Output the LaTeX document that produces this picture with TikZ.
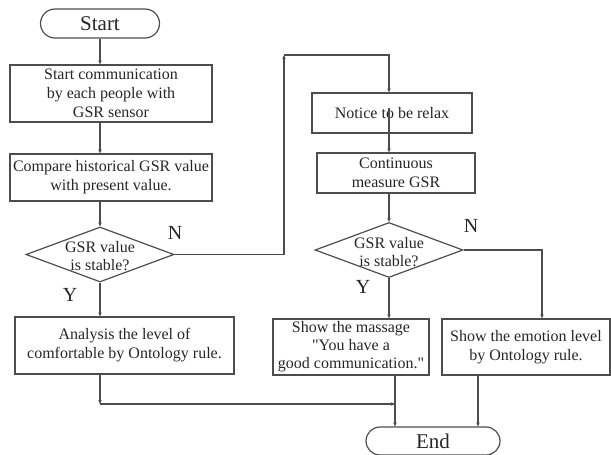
\documentclass[tikz,border=0pt]{standalone}
\usepackage{fontspec}
\setmainfont{Liberation Serif}[Ligatures=TeXOff]
\usetikzlibrary{shapes.geometric,shapes.misc,arrows.meta}
\definecolor{ln}{HTML}{4D4D4D}
\definecolor{tx}{HTML}{262626}
\begin{document}
\begin{tikzpicture}[x=1pt,y=-1pt,
  every node/.style={text=tx, inner sep=0pt},
  box/.style={draw=ln, line width=1.3pt, rectangle, align=center,
    font=\fontsize{16}{19}\selectfont},
  term/.style={draw=ln, line width=1.2pt, rounded rectangle,
    font=\fontsize{21}{24}\selectfont},
  decide/.style={draw=ln, line width=1.2pt, diamond, minimum width=148,
    minimum height=55,
    label={[align=center, font=\fontsize{16}{18}\selectfont, yshift=-2pt]center:{GSR value\\is stable?}}},
  yn/.style={font=\fontsize{20}{22}\selectfont},
  arr/.style={draw=ln, line width=1.2pt, -{Stealth[length=4pt,width=3.5pt]}}]
\useasboundingbox (0,0) rectangle (611,455);

% column positions used by the connectors
\coordinate (cx) at (100,0);
\coordinate (rx) at (389,0);
\coordinate (ex) at (542,0);
\coordinate (fx) at (478,0);
\coordinate (lp) at (284,55);
\coordinate (j1) at (100,404);
\coordinate (j2) at (395,404);
\coordinate (b4m) at (389,108);

% left column
\node[term, minimum width=119, minimum height=29] (start) at (100,23.5) {Start};
\node[box, minimum width=202, minimum height=57] (b1) at (111,93.5)
  {Start communication\\by each people with\\GSR sensor};
\node[box, minimum width=202, minimum height=47] (b2) at (111,177.5)
  {Compare historical GSR value\\with present value.};
\node[decide] (d1) at (100,254.5) {};
\node[yn] (n1) at (175,233) {N};
\node[yn] (y1) at (70,295) {Y};
\node[box, minimum width=219, minimum height=57] (b3) at (124.5,345.5)
  {Analysis the level of\\comfortable by Ontology rule.};

% right part
\node[box, minimum width=160, minimum height=40] (b4) at (392,113) {Notice to be relax};
\node[box, minimum width=158, minimum height=40] (b5) at (396,173)
  {Continuous\\measure GSR};
\node[decide] (d2) at (389,250) {};
\node[yn] (n2) at (471,226) {N};
\node[yn] (y2) at (363,287) {Y};
\node[box, minimum width=156, minimum height=56, font=\fontsize{16}{18}\selectfont] (b6) at (351,347)
  {Show the massage\\"You have a\\good communication."};
\node[box, minimum width=168, minimum height=56] (b7) at (526,347)
  {Show the emotion level\\by Ontology rule.};
\node[term, minimum width=134, minimum height=28] (end) at (433,441) {End};

% connectors
\draw[arr] (start.south -| cx) -- (b1.north -| cx);
\draw[arr] (b1.south -| cx) -- (b2.north -| cx);
\draw[arr] (b2.south -| cx) -- (d1.north);
\draw[arr] (d1.south) -- (b3.north -| cx);
\draw[arr] (d1.east) -- (d1.east -| lp) -- (lp);
\draw[arr] (lp) -- (lp -| rx) -- (b4.north -| rx);
\draw[arr] (b4m) -- (b5.north -| rx);
\draw[arr] (b5.south -| rx) -- (d2.north);
\draw[arr] (d2.south) -- (b6.north -| d2.south);
\draw[arr] (d2.east) -- (d2.east -| ex) -- (b7.north -| ex);
\draw[arr] (b3.south -| j1) -- (j1);
\draw[arr] (j1) -- (j2);
\draw[arr] (b6.south -| j2) -- (end.north -| j2);
\draw[arr] (b7.south -| fx) -- (end.north -| fx);
\end{tikzpicture}
\end{document}
